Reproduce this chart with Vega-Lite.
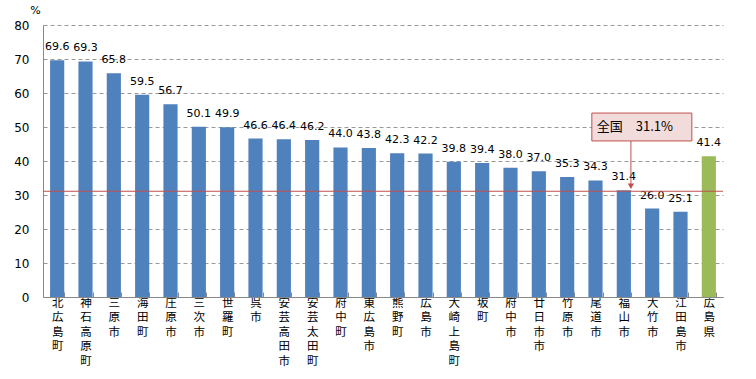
{
  "$schema": "https://vega.github.io/schema/vega-lite/v6.json",
  "width": 680,
  "height": 272,
  "autosize": "none",
  "padding": {"left": 43, "top": 25, "right": 33, "bottom": 82},
  "background": "white",
  "config": {"view": {"stroke": null}, "font": "DejaVu Sans"},
  "data": {"values": [
    {"cat": "北広島町", "val": 69.6, "group": "市町"},
    {"cat": "神石高原町", "val": 69.3, "group": "市町"},
    {"cat": "三原市", "val": 65.8, "group": "市町"},
    {"cat": "海田町", "val": 59.5, "group": "市町"},
    {"cat": "庄原市", "val": 56.7, "group": "市町"},
    {"cat": "三次市", "val": 50.1, "group": "市町"},
    {"cat": "世羅町", "val": 49.9, "group": "市町"},
    {"cat": "呉市", "val": 46.6, "group": "市町"},
    {"cat": "安芸高田市", "val": 46.4, "group": "市町"},
    {"cat": "安芸太田町", "val": 46.2, "group": "市町"},
    {"cat": "府中町", "val": 44.0, "group": "市町"},
    {"cat": "東広島市", "val": 43.8, "group": "市町"},
    {"cat": "熊野町", "val": 42.3, "group": "市町"},
    {"cat": "広島市", "val": 42.2, "group": "市町"},
    {"cat": "大崎上島町", "val": 39.8, "group": "市町"},
    {"cat": "坂町", "val": 39.4, "group": "市町"},
    {"cat": "府中市", "val": 38.0, "group": "市町"},
    {"cat": "廿日市市", "val": 37.0, "group": "市町"},
    {"cat": "竹原市", "val": 35.3, "group": "市町"},
    {"cat": "尾道市", "val": 34.3, "group": "市町"},
    {"cat": "福山市", "val": 31.4, "group": "市町"},
    {"cat": "大竹市", "val": 26.0, "group": "市町"},
    {"cat": "江田島市", "val": 25.1, "group": "市町"},
    {"cat": "広島県", "val": 41.4, "group": "県"}
  ]},
  "encoding": {
    "x": {
      "field": "cat", "type": "nominal", "sort": null,
      "scale": {"paddingInner": 0.5, "paddingOuter": 0.25},
      "axis": {
        "title": null, "labelAngle": 0, "labelBaseline": "top",
        "labelExpr": "split(datum.label, '')",
        "labelLineHeight": 14.5, "labelFontSize": 11.5, "labelFont": "Noto Sans CJK JP",
        "labelColor": "black", "labelPadding": 5,
        "domainColor": "#888888", "tickColor": "#888888", "tickSize": -5, "tickBand": "extent",
        "labelLimit": 0, "labelOverlap": false
      }
    },
    "y": {
      "field": "val", "type": "quantitative",
      "scale": {"domain": [0, 80], "nice": false},
      "axis": {
        "values": [0, 10, 20, 30, 40, 50, 60, 70, 80],
        "labelOverlap": false,
        "title": "%", "titleAngle": 0, "titleX": -8, "titleY": -10,
        "titleFontSize": 11, "titleFontWeight": "normal", "titleAlign": "center",
        "labelFontSize": 12, "labelColor": "black", "labelPadding": 14,
        "ticks": false, "domainColor": "#888888",
        "gridColor": "#999999", "gridDash": [4, 3]
      }
    }
  },
  "layer": [
    {
      "mark": {"type": "bar"},
      "encoding": {
        "color": {
          "field": "group", "type": "nominal",
          "scale": {"domain": ["市町", "県"], "range": ["#4f81bd", "#9bbb59"]},
          "legend": null
        }
      }
    },
    {
      "mark": {"type": "text", "baseline": "bottom", "dy": -8, "fontSize": 11, "color": "black"},
      "encoding": {
        "text": {"field": "val", "type": "quantitative", "format": ".1f"}
      }
    },
    {
      "data": {"values": [{"cat": "福山市", "val": 31.1, "label": "全国　31.1%", "boxTop": 54.1, "boxBottom": 45.9, "mid": 50, "arrowEnd": 32.6}]},
      "layer": [
        {
          "mark": {"type": "rule", "color": "#c0504d", "strokeWidth": 1},
          "encoding": {"x": null}
        },
        {
          "mark": {"type": "rule", "color": "#c0504d", "strokeWidth": 1},
          "encoding": {
            "x": {"field": "cat", "type": "nominal", "bandPosition": 1},
            "y": {"field": "boxBottom", "type": "quantitative"},
            "y2": {"field": "arrowEnd"}
          }
        },
        {
          "mark": {"type": "point", "shape": "triangle-down", "filled": true, "color": "#c0504d", "size": 40, "opacity": 1},
          "encoding": {
            "x": {"field": "cat", "type": "nominal", "bandPosition": 1},
            "y": {"field": "arrowEnd", "type": "quantitative"}
          }
        },
        {
          "mark": {"type": "bar", "width": 100, "xOffset": 18, "fill": "#f2dcdb", "stroke": "#c0504d", "strokeWidth": 1},
          "encoding": {
            "y": {"field": "boxTop", "type": "quantitative"},
            "y2": {"field": "boxBottom"}
          }
        },
        {
          "mark": {"type": "text", "fontSize": 13, "font": "Noto Sans CJK JP", "color": "black", "dx": 4},
          "encoding": {
            "x": {"field": "cat", "type": "nominal", "bandPosition": 1},
            "y": {"field": "mid", "type": "quantitative"},
            "text": {"field": "label"}
          }
        }
      ]
    }
  ]
}
